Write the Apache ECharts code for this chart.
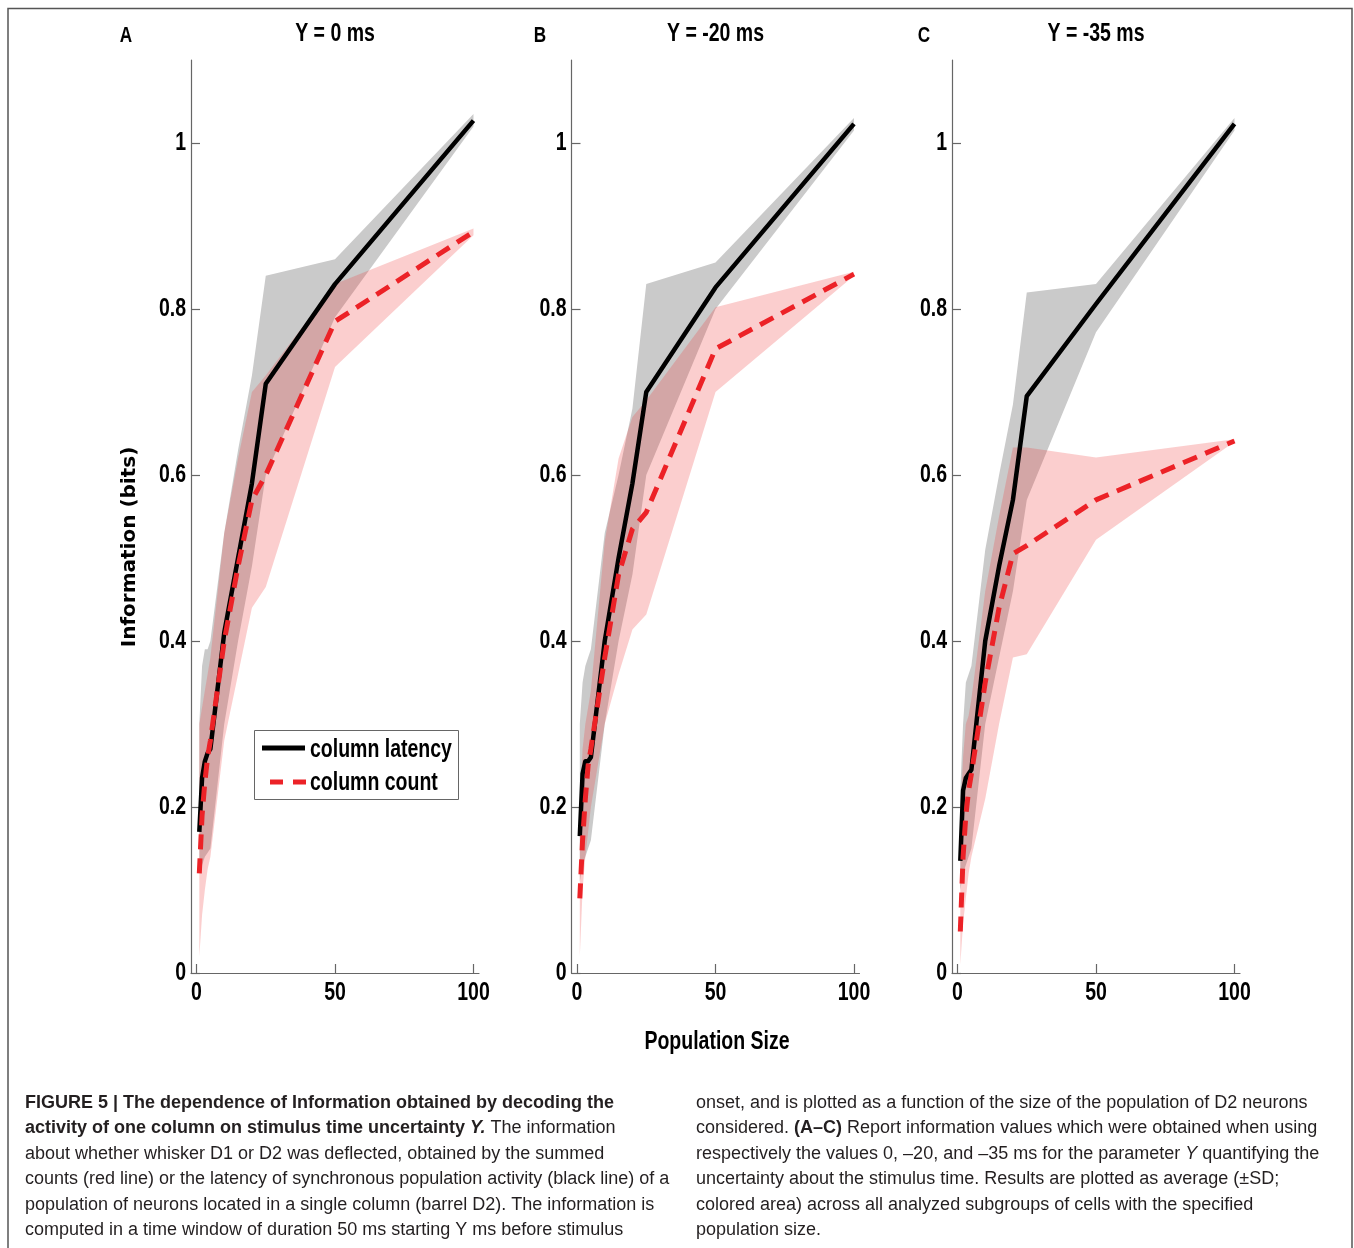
<!DOCTYPE html>
<html><head><meta charset="utf-8">
<script src="https://cdn.jsdelivr.net/npm/echarts@6/dist/echarts.min.js"></script>
<style>html,body{margin:0;padding:0;background:#fff}#c{width:1354px;height:1248px}</style>
</head><body><div id="c"></div><script>
// ---- data ----
const popSize = [1, 2, 3, 4, 5, 10, 15, 20, 25, 50, 100];
const panelTitles = ['Y = 0 ms', 'Y = -20 ms', 'Y = -35 ms'];
const panelLetters = ['A', 'B', 'C'];
const xTicks = [0, 50, 100];
const yTicks = [0, 0.2, 0.4, 0.6, 0.8, 1];

// Panel A (Y = 0 ms)
const latencyA  = [0.17, 0.235, 0.255, 0.265, 0.27, 0.41, 0.50, 0.59, 0.71, 0.83, 1.027];
const countA    = [0.12, 0.19, 0.23, 0.26, 0.28, 0.40, 0.49, 0.57, 0.60, 0.785, 0.893];
const latHiA    = [0.30, 0.37, 0.39, 0.39, 0.40, 0.53, 0.63, 0.72, 0.84, 0.86, 1.035];
const latLoA    = [0.12, 0.13, 0.14, 0.145, 0.15, 0.30, 0.40, 0.49, 0.60, 0.79, 1.02];
const cntHiA    = [0.30, 0.32, 0.34, 0.36, 0.38, 0.53, 0.62, 0.70, 0.72, 0.83, 0.897];
const cntLoA    = [0.02, 0.07, 0.10, 0.125, 0.14, 0.28, 0.36, 0.44, 0.465, 0.73, 0.889];

// Panel B (Y = -20 ms)
const latencyB  = [0.165, 0.24, 0.255, 0.255, 0.26, 0.40, 0.50, 0.59, 0.70, 0.826, 1.023];
const countB    = [0.09, 0.16, 0.21, 0.25, 0.27, 0.38, 0.48, 0.535, 0.555, 0.752, 0.842];
const latHiB    = [0.30, 0.35, 0.37, 0.38, 0.39, 0.53, 0.60, 0.68, 0.83, 0.856, 1.03];
const latLoB    = [0.11, 0.13, 0.14, 0.15, 0.16, 0.30, 0.40, 0.48, 0.60, 0.80, 1.015];
const cntHiB    = [0.19, 0.27, 0.30, 0.32, 0.34, 0.52, 0.62, 0.67, 0.69, 0.802, 0.845];
const cntLoB    = [0.02, 0.10, 0.14, 0.17, 0.20, 0.30, 0.36, 0.414, 0.432, 0.70, 0.840];

// Panel C (Y = -35 ms)
const latencyC  = [0.135, 0.22, 0.235, 0.24, 0.245, 0.40, 0.49, 0.57, 0.695, 0.806, 1.023];
const countC    = [0.05, 0.14, 0.19, 0.22, 0.24, 0.35, 0.44, 0.505, 0.515, 0.57, 0.641];
const latHiC    = [0.22, 0.30, 0.35, 0.36, 0.37, 0.51, 0.60, 0.685, 0.82, 0.83, 1.03];
const latLoC    = [0.10, 0.12, 0.13, 0.14, 0.15, 0.30, 0.38, 0.46, 0.57, 0.772, 1.015];
const cntHiC    = [0.19, 0.26, 0.30, 0.31, 0.33, 0.46, 0.55, 0.633, 0.633, 0.621, 0.643];
const cntLoC    = [0.01, 0.06, 0.09, 0.12, 0.14, 0.21, 0.30, 0.38, 0.384, 0.522, 0.640];

const panels = [
  {lat: latencyA, cnt: countA, latHi: latHiA, latLo: latLoA, cntHi: cntHiA, cntLo: cntLoA},
  {lat: latencyB, cnt: countB, latHi: latHiB, latLo: latLoB, cntHi: cntHiB, cntLo: cntLoB},
  {lat: latencyC, cnt: countC, latHi: latHiC, latLo: latLoC, cntHi: cntHiC, cntLo: cntLoC}
];

const legendNames = ['column latency', 'column count'];

// ---- styling ----
const SANS = "'Liberation Sans', Arial, Helvetica, sans-serif";
const WIDE = "'DejaVu Sans', Verdana, sans-serif";
const COND = 0.78;            // horizontal squeeze emulating a condensed face
const RED = '#ec2227';
const GRAY_BAND = '#cacaca';
const PINK_BAND = 'rgba(240,60,60,0.25)';
const AXIS_COL = '#666';
const CAP_COL = '#231f20';

const gridLefts = [191, 571.5, 952];
const gridW = 288, gridTop = 60, gridH = 913;
const XMIN = -2, XMAX = 102, YMIN = 0, YMAX = 1.1;

const grids = gridLefts.map(l => ({left: l, top: gridTop, width: gridW, height: gridH}));

const xAxes = gridLefts.map((l, i) => ({
  gridIndex: i, type: 'value', min: XMIN, max: XMAX,
  splitLine: {show: false},
  axisLine: {onZero: false, lineStyle: {color: AXIS_COL, width: 1.2}},
  axisTick: {inside: true, length: 9, customValues: xTicks, lineStyle: {color: AXIS_COL, width: 1.2}},
  axisLabel: {show: false}
}));
const yAxes = gridLefts.map((l, i) => ({
  gridIndex: i, type: 'value', min: YMIN, max: YMAX,
  splitLine: {show: false},
  axisLine: {onZero: false, lineStyle: {color: AXIS_COL, width: 1.2}},
  axisTick: {inside: true, length: 9, customValues: yTicks, lineStyle: {color: AXIS_COL, width: 1.2}},
  axisLabel: {show: false}
}));

function bandSeries(idx, lo, hi, color, z) {
  return {
    type: 'custom', xAxisIndex: idx, yAxisIndex: idx, silent: true, z: z,
    data: popSize.map((x, i) => [x, lo[i], hi[i]]),
    encode: {x: 0, y: [1, 2]},
    renderItem(params, api) {
      if (params.dataIndex !== 0) return null;
      const pts = [];
      for (let i = 0; i < popSize.length; i++) pts.push(api.coord([popSize[i], hi[i]]));
      for (let i = popSize.length - 1; i >= 0; i--) pts.push(api.coord([popSize[i], lo[i]]));
      return {type: 'polygon', shape: {points: pts}, style: {fill: color}};
    }
  };
}

const series = [];
panels.forEach((p, i) => {
  series.push(bandSeries(i, p.latLo, p.latHi, GRAY_BAND, 1));
  series.push(bandSeries(i, p.cntLo, p.cntHi, PINK_BAND, 2));
  series.push({
    name: legendNames[0], type: 'line', xAxisIndex: i, yAxisIndex: i, z: 3,
    data: popSize.map((x, k) => [x, p.lat[k]]), symbol: 'none', silent: true,
    lineStyle: {color: '#000', width: 4.5, join: 'round'}
  });
  series.push({
    name: legendNames[1], type: 'line', xAxisIndex: i, yAxisIndex: i, z: 4,
    data: popSize.map((x, k) => [x, p.cnt[k]]), symbol: 'none', silent: true,
    lineStyle: {color: RED, width: 5, type: [15, 9]}
  });
});

const chart = echarts.init(document.getElementById('c'), null, {renderer: 'canvas'});
chart.setOption({
  backgroundColor: '#fff',
  animation: false,
  grid: grids,
  xAxis: xAxes,
  yAxis: yAxes,
  series: series
});

// ---- text & decorations ----
function condText(x, y, text, size, align, z) {
  return {type: 'text', x: x, y: y, scaleX: COND, silent: true, z: z || 5,
    style: {text: text, font: 'bold ' + size + 'px ' + SANS, fill: '#000', align: align, verticalAlign: 'middle'}};
}

const capLeft = [
  '{b|FIGURE 5 | The dependence of Information obtained by decoding the}',
  '{b|activity of one column on stimulus time uncertainty }{bi|Y.} The information',
  'about whether whisker D1 or D2 was deflected, obtained by the summed',
  'counts (red line) or the latency of synchronous population activity (black line) of a',
  'population of neurons located in a single column (barrel D2). The information is',
  'computed in a time window of duration 50 ms starting Y ms before stimulus'
];
const capRight = [
  'onset, and is plotted as a function of the size of the population of D2 neurons',
  'considered. {b|(A–C)} Report information values which were obtained when using',
  'respectively the values 0, –20, and –35 ms for the parameter {i|Y} quantifying the',
  'uncertainty about the stimulus time. Results are plotted as average (±SD;',
  'colored area) across all analyzed subgroups of cells with the specified',
  'population size.'
];
const capY0 = 1103, capDY = 25.5;
const capRich = {
  b: {fontWeight: 'bold', fontFamily: SANS, fontSize: 18, color: CAP_COL},
  bi: {fontWeight: 'bold', fontStyle: 'italic', fontFamily: SANS, fontSize: 18, color: CAP_COL},
  i: {fontStyle: 'italic', fontFamily: SANS, fontSize: 18, color: CAP_COL}
};

const graphics = [];
// frame
graphics.push({type: 'polyline', shape: {points: [[8, 1248], [8, 8.5], [1352, 8.5], [1352, 1248]]},
  style: {stroke: '#555', lineWidth: 1.5, fill: null}, silent: true});
// panel titles and letters
const letterX = [126, 540, 924];
panelTitles.forEach((t, i) => {
  graphics.push(condText(gridLefts[i] + gridW / 2, 34, t, 25, 'center'));
  graphics.push(condText(letterX[i], 36, panelLetters[i], 22, 'center'));
});
// axis names
graphics.push({type: 'text', x: 130, y: 547, rotation: Math.PI / 2, silent: true,
  style: {text: 'Information (bits)', font: 'bold 20px ' + WIDE, fill: '#000', align: 'center', verticalAlign: 'middle'}});
graphics.push(condText(717, 1042, 'Population Size', 25, 'center'));
// tick labels, positioned through the axes' own scales
gridLefts.forEach((l, i) => {
  xTicks.forEach(v => {
    const p = chart.convertToPixel({gridIndex: i}, [v, YMIN]);
    graphics.push(condText(p[0], p[1] + 20, String(v), 25, 'center'));
  });
  yTicks.forEach(v => {
    const p = chart.convertToPixel({gridIndex: i}, [XMIN, v]);
    graphics.push(condText(p[0] - 5, p[1], String(v), 25, 'right'));
  });
});
// legend
graphics.push({type: 'rect', shape: {x: 254.5, y: 730.5, width: 204, height: 69}, silent: true, z: 10,
  style: {fill: '#fff', stroke: '#666', lineWidth: 1}});
graphics.push({type: 'line', shape: {x1: 262, y1: 748, x2: 305, y2: 748}, silent: true, z: 11,
  style: {stroke: '#000', lineWidth: 5}});
graphics.push({type: 'line', shape: {x1: 270, y1: 782, x2: 306, y2: 782}, silent: true, z: 11,
  style: {stroke: RED, lineWidth: 5, lineDash: [13, 10]}});
graphics.push(condText(310, 750, legendNames[0], 25, 'left', 11));
graphics.push(condText(310, 783, legendNames[1], 25, 'left', 11));
// caption
capLeft.forEach((line, k) => {
  graphics.push({type: 'text', x: 25, y: capY0 + k * capDY, silent: true,
    style: {text: line, font: '18px ' + SANS, fill: CAP_COL, verticalAlign: 'middle', rich: capRich}});
});
capRight.forEach((line, k) => {
  graphics.push({type: 'text', x: 696, y: capY0 + k * capDY, silent: true,
    style: {text: line, font: '18px ' + SANS, fill: CAP_COL, verticalAlign: 'middle', rich: capRich}});
});

chart.setOption({graphic: {elements: graphics}});
</script></body></html>
